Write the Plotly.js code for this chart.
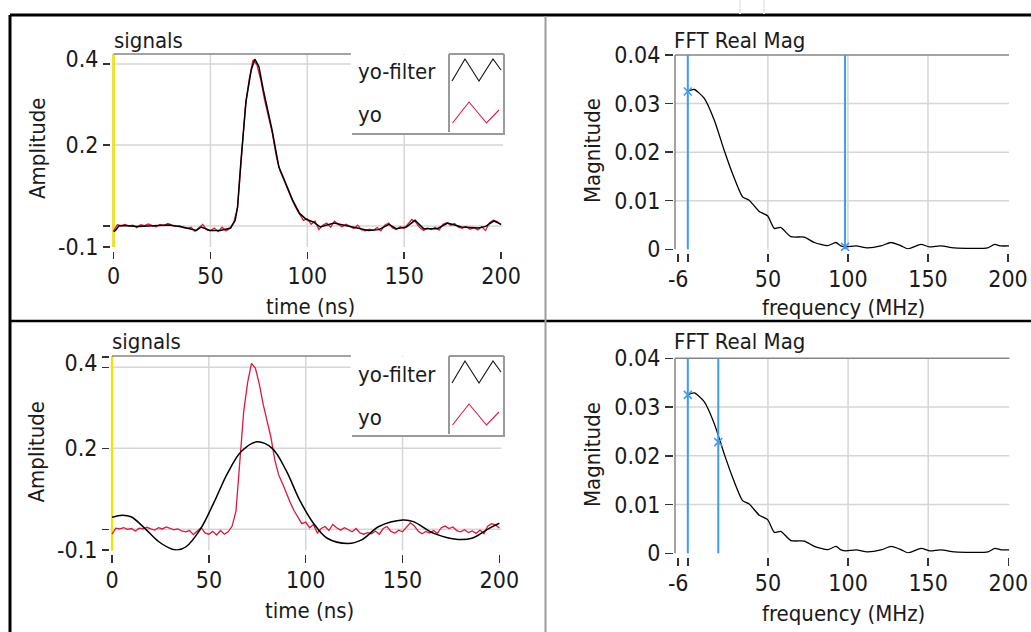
<!DOCTYPE html>
<html><head><meta charset="utf-8">
<script src="https://cdn.plot.ly/plotly-3.0.1.min.js"></script>
<style>html,body{margin:0;padding:0;background:#fff;overflow:hidden}#chart{width:1031px;height:632px}</style>
</head><body><div id="chart"></div>
<script>
// ---------------- data ----------------
const time = [0,2,4,6,8,10,12,14,16,18,20,22,24,26,28,30,32,34,36,38,40,42,44,46,48,50,52,54,56,58,60,62,64,66,68,70,72,74,76,78,80,82,84,86,88,90,92,94,96,98,100,102,104,106,108,110,112,114,116,118,120,122,124,126,128,130,132,134,136,138,140,142,144,146,148,150,152,154,156,158,160,162,164,166,168,170,172,174,176,178,180,182,184,186,188,190,192,194,196,198,200];
const yo = [-0.012,0.003,0.001,0.004,0.000,0.002,-0.004,0.003,0.001,0.005,0.001,-0.002,0.004,0.001,0.006,0.002,-0.001,0.001,-0.004,-0.006,-0.003,-0.013,-0.005,0.004,-0.009,-0.012,-0.005,-0.014,-0.003,-0.012,-0.006,0.008,0.045,0.170,0.292,0.362,0.410,0.398,0.360,0.310,0.268,0.228,0.172,0.135,0.113,0.088,0.066,0.046,0.029,0.014,0.018,0.004,0.012,-0.009,0.002,0.007,-0.003,0.012,0.004,-0.002,0.004,0.000,-0.006,0.002,-0.009,-0.012,-0.008,-0.011,-0.004,-0.012,0.002,0.007,-0.005,-0.009,-0.002,-0.006,0.004,0.016,0.009,-0.004,-0.011,-0.005,-0.009,-0.003,-0.010,0.004,0.008,0.002,0.006,-0.003,-0.006,-0.001,-0.008,-0.004,-0.010,-0.002,-0.011,0.008,0.014,0.011,0.003];

const timeFilterTop = [0,1,2.7,5.3,12.4,21.3,28.4,35.6,42.7,45.3,49.8,55.1,60.4,62.8,64,65.8,68.4,71.1,72.9,75,77.3,81.8,85.3,88.9,92.4,96,99.6,103.1,106.7,113.8,119.1,124.4,131.6,136.9,142.2,145.8,151.1,155.6,160,167.1,172.4,179.6,188.4,192,196.4,200];
const yoFilterTop = [-0.014,-0.011,0,0.001,-0.001,0.001,0.0025,-0.0025,-0.011,-0.0025,-0.011,-0.011,-0.005,0.014,0.047,0.163,0.31,0.386,0.412,0.394,0.336,0.237,0.146,0.105,0.064,0.031,0.016,0.01,-0.0025,0.0074,0.0017,-0.0025,-0.011,-0.009,0.004,-0.0066,-0.0025,0.014,-0.0066,-0.0066,0.0074,-0.0025,-0.005,-0.001,0.0124,0.004];

const timeFilterBottom = [0,5.3,9.8,16.9,24,31.1,33.8,38.2,45.3,52.4,59.6,66.7,74.7,82.7,89.8,96.9,104,111.1,121.8,128.9,137.8,150.2,155.6,166.2,178.7,185.8,194.7,200];
const yoFilterBottom = [0.030,0.035,0.031,0.0025,-0.030,-0.049,-0.051,-0.043,-0.002,0.064,0.138,0.192,0.216,0.200,0.146,0.072,0.015,-0.022,-0.035,-0.026,0.007,0.023,0.019,-0.010,-0.025,-0.022,0.0025,0.015];

const freq = [0,4,10.2,16.5,22.7,27.9,34.2,38.3,44.6,49.8,54,58,64.4,72.7,79,87.3,92.5,95.6,98.8,105,112.3,120.6,126.9,133,137.3,145.6,150.8,158,166.5,187.3,191.5,195.6,200.6];
const fftMag = [0.0325,0.0329,0.0311,0.0266,0.0204,0.0156,0.0108,0.0101,0.0078,0.0069,0.0043,0.0045,0.0026,0.0025,0.0014,0.00075,0.0014,0.0007,0.0005,0.0007,0.0003,0.0007,0.0014,0.00075,0.0001,0.001,0.0005,0.0007,0.0003,0.0003,0.001,0.0007,0.0007];

const cursorFreqTop = [0, 98.2];
const cursorMagTop = [0.0325, 0.0005];
const cursorFreqBottom = [0, 19];
const cursorMagBottom = [0.0325, 0.0228];
const timeCursor = 0;

const timeTicks = [0,50,100,150,200];
const timeTickText = ['0','50','100','150','200'];
const timeGrid = [50,100,150];
const ampTicks = [-0.0515,0,0.2,0.4,0.425];
const ampLabelVals = [-0.0515,0.2,0.412];
const ampLabelText = ['-0.1','0.2','0.4'];
const ampGrid = [0,0.2,0.4];
const freqTicks = [-6,0,50,100,150,200];
const freqTickText = ['-6','','50','100','150','200'];
const freqGrid = [50,100,150];
const magTicks = [0,0.01,0.02,0.03,0.04];
const magTickText = ['0','0.01','0.02','0.03','0.04'];
const magGrid = [0.01,0.02,0.03];
const seriesNames = ['yo-filter','yo'];

// ---------------- layout helpers ----------------
const W = 1031, H = 632;
const X = px => px / W;
const Y = py => 1 - py / H;
const FONT = 'DejaVu Sans Condensed, DejaVu Sans, sans-serif';
const TXT = '#1a1a1a';
const GRID = '#d6d6d6';
const BORDER = '#858585';
const RED = '#e0163c';
const BLUE = '#3d9bf2';
const YELLOW = '#f2e600';

function xAx(p, tickvals, ticktext){
  return {domain:[X(p.x0),X(p.x1)], range:p.xr, anchor:'free', position:Y(p.xt),
    showline:false, zeroline:false, showgrid:false, ticks:'outside', ticklen:p.xl, tickwidth:1.5, tickcolor:'#333',
    ticklabelstandoff:-3,
    tickmode:'array', tickvals, ticktext, tickfont:{family:FONT,size:23,color:TXT}, fixedrange:true};
}
function yAx(p, tickvals, ticktext, showlabels){
  return {domain:[Y(p.y1),Y(p.y0)], range:p.yr, anchor:'free', position:X(p.yt), side:'left',
    showline:false, zeroline:false, showgrid:false, ticks:'outside', ticklen:p.yl, tickwidth:1.5, tickcolor:'#333',
    tickmode:'array', tickvals, ticktext, showticklabels:showlabels, tickfont:{family:FONT,size:23,color:TXT}, fixedrange:true};
}

const P1 = {x0:112, x1:503, y0:54, y1:247, xr:[-0.8,201], yr:[-0.0519,0.4247], xt:251, xl:7, yt:110, yl:7};
const P3 = {x0:110.5, x1:501.3, y0:356, y1:550.4, xr:[-0.8,201], yr:[-0.052,0.428], xt:554, xl:8, yt:109, yl:7};
const P2 = {x0:675, x1:1009, y0:55, y1:249.3, xr:[-8,200.6], yr:[0,0.04], xt:253, xl:8, yt:673, yl:8};
const P4 = {x0:675, x1:1009.3, y0:358.3, y1:553.3, xr:[-8,200.6], yr:[0,0.04], xt:557, xl:8, yt:673, yl:8};

const layout = {
  width:W, height:H, margin:{l:0,r:0,t:0,b:0}, paper_bgcolor:'#fff', plot_bgcolor:'rgba(0,0,0,0)', showlegend:false,
  xaxis: xAx(P1, timeTicks, timeTickText),
  yaxis: yAx(P1, ampTicks, ampTicks.map(()=>''), false),
  xaxis2: xAx(P2, freqTicks, freqTickText),
  yaxis2: yAx(P2, magTicks, magTickText, true),
  xaxis3: xAx(P3, timeTicks, timeTickText),
  yaxis3: yAx(P3, ampTicks, ampTicks.map(()=>''), false),
  xaxis4: xAx(P4, freqTicks, freqTickText),
  yaxis4: yAx(P4, magTicks, magTickText, true),
  shapes: [], annotations: []
};
// label-only overlay axes for the amplitude scales
layout.yaxis5 = Object.assign(yAx(P1, ampLabelVals, ampLabelText, true), {overlaying:'y', tickcolor:'rgba(0,0,0,0)'});
layout.yaxis6 = Object.assign(yAx(P3, ampLabelVals, ampLabelText, true), {overlaying:'y3', tickcolor:'rgba(0,0,0,0)'});
delete layout.yaxis5.domain; delete layout.yaxis6.domain;

const S = layout.shapes, A = layout.annotations;
function pl(x0,y0,x1,y1,color,width,layer){ S.push({type:'line',xref:'paper',yref:'paper',x0:X(x0),y0:Y(y0),x1:X(x1),y1:Y(y1),line:{color,width},layer:layer||'above'}); }
function path(pts,color,width){ S.push({type:'path',xref:'paper',yref:'paper',path:'M'+pts.map(p=>X(p[0])+','+Y(p[1])).join('L'),line:{color,width},layer:'above'}); }
function txt(s,x,y,opt){ A.push(Object.assign({text:s,xref:'paper',yref:'paper',x:X(x),y:Y(y),xanchor:'center',yanchor:'middle',showarrow:false,font:{family:FONT,size:22,color:TXT}},opt||{})); }

// grids (data-referenced)
function grids(xa, ya, xg, yg){
  xg.forEach(v=>S.push({type:'line',xref:xa,yref:ya+' domain',x0:v,x1:v,y0:0,y1:1,line:{color:GRID,width:1.5},layer:'below'}));
  yg.forEach(v=>S.push({type:'line',xref:xa+' domain',yref:ya,x0:0,x1:1,y0:v,y1:v,line:{color:GRID,width:1.5},layer:'below'}));
}
grids('x','y',timeGrid,ampGrid);
grids('x3','y3',timeGrid,ampGrid);
grids('x2','y2',freqGrid,magGrid);
grids('x4','y4',freqGrid,magGrid);

// plot borders
pl(113.5,54,351,54,BORDER,1.5); pl(113.5,54,113.5,247,BORDER,1.5,'below');
pl(112,356,351,356,BORDER,1.5); pl(112,356,112,550.4,BORDER,1.5,'below');
pl(675,55,1009,55,BORDER,1.5); pl(675,55,675,249.3,BORDER,1.5);
pl(675,358.3,1009.3,358.3,BORDER,1.5); pl(675,358.3,675,553.3,BORDER,1.5);

// cursors
[['x','y'],['x3','y3']].forEach(([xa,ya])=>S.push({type:'line',xref:xa,yref:ya+' domain',x0:timeCursor,x1:timeCursor,y0:0,y1:1,line:{color:YELLOW,width:2.5},layer:'below'}));
cursorFreqTop.forEach(v=>S.push({type:'line',xref:'x2',yref:'y2 domain',x0:v,x1:v,y0:0,y1:1,line:{color:BLUE,width:2},layer:'above'}));
cursorFreqBottom.forEach(v=>S.push({type:'line',xref:'x4',yref:'y4 domain',x0:v,x1:v,y0:0,y1:1,line:{color:BLUE,width:2},layer:'above'}));

// legends
function legend(T){
  S.push({type:'rect',xref:'paper',yref:'paper',x0:X(350.5),x1:X(505.5),y0:Y(T+80),y1:Y(T+0.8),fillcolor:'#fff',line:{width:0},layer:'above'});
  pl(352,T+80,505,T+80,'#9a9a9a',2);
  pl(449,T,449,T+78,'#9a9a9a',2);
  pl(449,T,504,T,'#9a9a9a',2);
  pl(504,T,504,T+80,'#9a9a9a',2);
  path([[452,T+27],[465,T+5],[479,T+27],[493,T+5],[501,T+16]],'#111',1.1);
  path([[452.5,T+69],[469,T+48],[486.5,T+69],[499,T+56]],RED,1.1);
  txt(seriesNames[0],356,T+18,{xanchor:'left'});
  txt(seriesNames[1],356,T+61,{xanchor:'left'});
}
legend(54); legend(356);

// frame
pl(10,15,1031,15,'#000',3);
pl(10,15,10,632,'#000',3);
pl(10,321,1031,321,'#000',2.5);
pl(545.5,16,545.5,632,'#9c9c9c',2);
pl(740,0,740,14,'#ebebeb',2); pl(764,0,764,14,'#ebebeb',2);

// titles
txt('signals',112,40,{xanchor:'left'});
txt('signals',110,341,{xanchor:'left'});
txt('FFT Real Mag',672,40,{xanchor:'left'});
txt('FFT Real Mag',672,341,{xanchor:'left'});
txt('Amplitude',37,149,{textangle:-90});
txt('Amplitude',35.5,452,{textangle:-90});
txt('Magnitude',593,151,{textangle:-90});
txt('Magnitude',593,455,{textangle:-90});
txt('time (ns)',310,307);
txt('time (ns)',309,610);
txt('frequency (MHz)',843,308);
txt('frequency (MHz)',843,613);

const traces = [
  {x:time, y:yo, xaxis:'x', yaxis:'y', mode:'lines', name:seriesNames[1], line:{color:RED,width:1.3}},
  {x:timeFilterTop, y:yoFilterTop, xaxis:'x', yaxis:'y', mode:'lines', name:seriesNames[0], line:{color:'#000',width:1.5}},
  {x:time, y:yo, xaxis:'x3', yaxis:'y3', mode:'lines', name:seriesNames[1], line:{color:RED,width:1.3}},
  {x:timeFilterBottom, y:yoFilterBottom, xaxis:'x3', yaxis:'y3', mode:'lines', name:seriesNames[0], line:{color:'#000',width:1.5,shape:'spline',smoothing:1}},
  {x:freq, y:fftMag, xaxis:'x2', yaxis:'y2', mode:'lines', line:{color:'#000',width:1.3,shape:'spline',smoothing:0.6}},
  {x:freq, y:fftMag, xaxis:'x4', yaxis:'y4', mode:'lines', line:{color:'#000',width:1.3,shape:'spline',smoothing:0.6}},
  {x:cursorFreqTop, y:cursorMagTop, xaxis:'x2', yaxis:'y2', mode:'markers', marker:{symbol:'x-thin',size:8,line:{width:1.5,color:BLUE}}, cliponaxis:false},
  {x:cursorFreqBottom, y:cursorMagBottom, xaxis:'x4', yaxis:'y4', mode:'markers', marker:{symbol:'x-thin',size:8,line:{width:1.5,color:BLUE}}, cliponaxis:false},
  {x:[], y:[], xaxis:'x', yaxis:'y5', mode:'lines', hoverinfo:'skip'},
  {x:[], y:[], xaxis:'x3', yaxis:'y6', mode:'lines', hoverinfo:'skip'}
];

Plotly.newPlot('chart', traces, layout, {staticPlot:true, displayModeBar:false});
</script>
</body></html>
